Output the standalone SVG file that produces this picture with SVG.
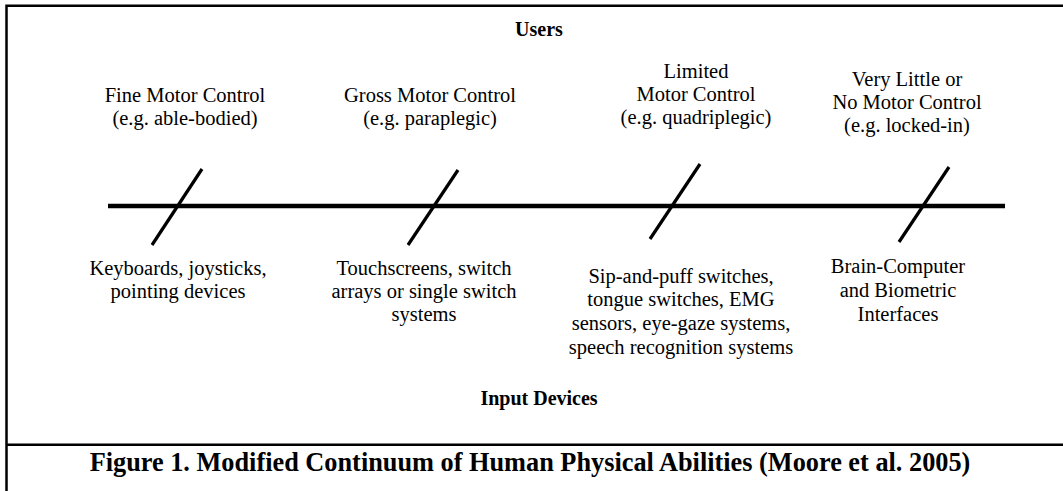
<svg xmlns="http://www.w3.org/2000/svg" width="1063" height="491" viewBox="0 0 1063 491">
<style>
.t{font-family:"Liberation Serif","Times New Roman",serif;font-size:20.5px;fill:#000;text-anchor:middle}
.b{font-family:"Liberation Serif","Times New Roman",serif;font-size:20px;font-weight:bold;fill:#000;text-anchor:middle}
.c{font-family:"Liberation Serif","Times New Roman",serif;font-size:26.3px;font-weight:bold;fill:#000;text-anchor:middle}
.frame{stroke:#000;stroke-width:2.5;fill:none}
.axis{stroke:#000;stroke-width:4.5;fill:none}
.slash{stroke:#000;stroke-width:3.2;fill:none}
</style>
<rect width="1063" height="491" fill="#fff"/>
<g id="frame">
<path class="frame" d="M6.5 491V5.8H1063"/>
<path class="frame" d="M6.5 444.7H1063"/>
</g>
<g id="connectors">
<line class="axis" x1="108" y1="206" x2="1005" y2="206"/>
<line class="slash" x1="152" y1="245" x2="202" y2="169"/>
<line class="slash" x1="408" y1="245" x2="458" y2="170"/>
<line class="slash" x1="650" y1="239" x2="700" y2="164"/>
<line class="slash" x1="899" y1="242" x2="949" y2="167"/>
</g>
<g id="users"><text class="b" x="539" y="36">Users</text></g>
<g id="fine"><text class="t" x="185" y="102">Fine Motor Control</text><text class="t" x="185" y="125">(e.g. able-bodied)</text></g>
<g id="gross"><text class="t" x="430" y="102">Gross Motor Control</text><text class="t" x="430" y="125">(e.g. paraplegic)</text></g>
<g id="limited"><text class="t" x="696" y="78">Limited</text><text class="t" x="696" y="101">Motor Control</text><text class="t" x="696" y="124">(e.g. quadriplegic)</text></g>
<g id="verylittle"><text class="t" x="907" y="86">Very Little or</text><text class="t" x="907" y="109">No Motor Control</text><text class="t" x="907" y="132">(e.g. locked-in)</text></g>
<g id="keyboards"><text class="t" x="178" y="275">Keyboards, joysticks,</text><text class="t" x="178" y="298">pointing devices</text></g>
<g id="touch"><text class="t" x="424" y="275">Touchscreens, switch</text><text class="t" x="424" y="298">arrays or single switch</text><text class="t" x="424" y="321">systems</text></g>
<g id="sip"><text class="t" x="681" y="283">Sip-and-puff switches,</text><text class="t" x="681" y="306">tongue switches, EMG</text><text class="t" x="681" y="330">sensors, eye-gaze systems,</text><text class="t" x="681" y="354">speech recognition systems</text></g>
<g id="brain"><text class="t" x="898" y="273">Brain-Computer</text><text class="t" x="898" y="297">and Biometric</text><text class="t" x="898" y="321">Interfaces</text></g>
<g id="input"><text class="b" x="539" y="405">Input Devices</text></g>
<g id="caption"><text class="c" x="530" y="471">Figure 1. Modified Continuum of Human Physical Abilities (Moore et al. 2005)</text></g>
</svg>
